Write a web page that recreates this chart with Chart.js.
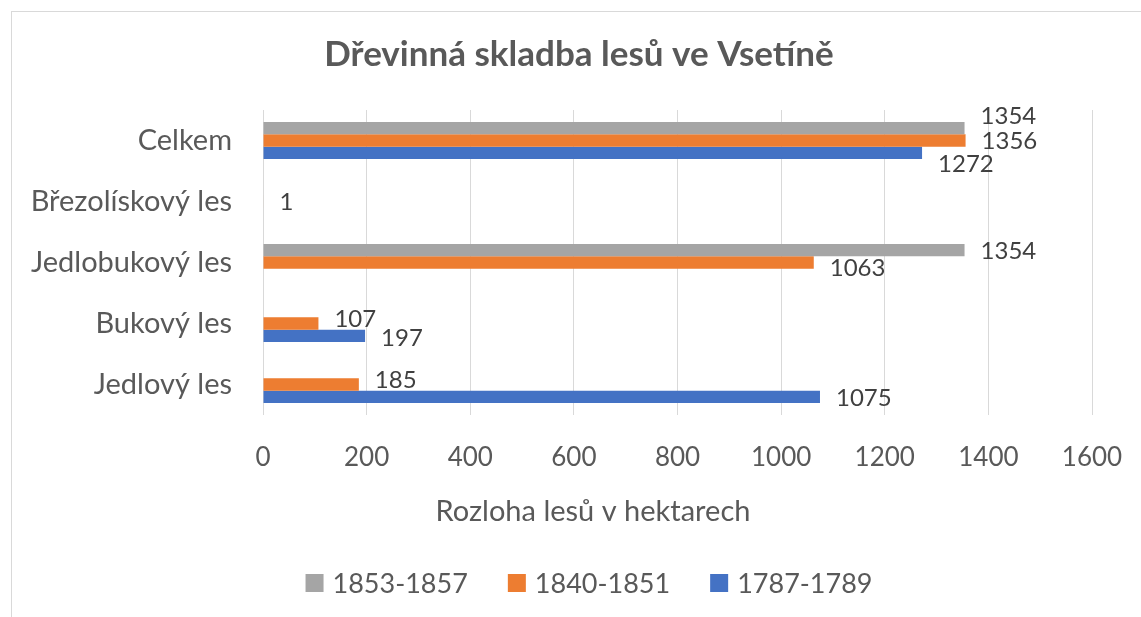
<!DOCTYPE html>
<html lang="cs">
<head>
<meta charset="UTF-8">
<title>Dřevinná skladba lesů ve Vsetíně</title>
<script src="https://cdn.jsdelivr.net/npm/chart.js@4.4.1/dist/chart.umd.min.js"></script>
<style>
  html, body { margin: 0; padding: 0; background: #fff; overflow: hidden; }
</style>
</head>
<body>
<canvas id="graf" width="1141" height="617"></canvas>
<script>
const kategorie = ['Celkem', 'Březolískový les', 'Jedlobukový les', 'Bukový les', 'Jedlový les'];
const obdobi = ['1853-1857', '1840-1851', '1787-1789'];
const hodnoty1853 = [1354, null, 1354, null, null];
const hodnoty1840 = [1356, 1, 1063, 107, 185];
const hodnoty1787 = [1272, null, null, 197, 1075];
const barvy = ['#A5A5A5', '#ED7D31', '#4472C4'];
const nadpis = 'Dřevinná skladba lesů ve Vsetíně';
const popisOsyX = 'Rozloha lesů v hektarech';

// popisky jsou v originale rucne posunute nahoru/dolu (px)
const posunPopisku = [
  [-11.5, 0, 1.5, 0, 0],
  [1, 1, 6, -4, -4.5],
  [11.5, 0, 0, 2, 1.5]
];

const pismo = 'Lato';
const sedaText = '#595959';
// Excel centruje nadpis, popis osy a legendu na cely objekt grafu, ten je sirsi nez obrazek
const stredObjektu = 587;

// tenky ramecek kolem grafu (prava a spodni strana jsou mimo obraz)
const ramecek = {
  id: 'ramecek',
  beforeDraw(chart) {
    const ctx = chart.ctx;
    ctx.save();
    ctx.strokeStyle = '#d9d9d9';
    ctx.lineWidth = 1;
    ctx.strokeRect(11.5, 11.5, chart.width + 20, chart.height + 20);
    ctx.restore();
  }
};

// hodnoty za koncem sloupcu
const popisky = {
  id: 'popisky',
  afterDatasetsDraw(chart) {
    const ctx = chart.ctx;
    ctx.save();
    ctx.font = '24px ' + pismo;
    ctx.fillStyle = '#404040';
    ctx.textAlign = 'left';
    ctx.textBaseline = 'middle';
    chart.data.datasets.forEach((ds, i) => {
      chart.getDatasetMeta(i).data.forEach((sloupec, j) => {
        const v = ds.data[j];
        if (v === null) return;
        ctx.fillText(String(v), sloupec.x + 16, sloupec.y + posunPopisku[i][j]);
      });
    });
    ctx.restore();
  }
};

// nadpis, popis osy X a legenda (ctverecky jako v Excelu)
const texty = {
  id: 'texty',
  afterDraw(chart) {
    const ctx = chart.ctx;
    ctx.save();
    ctx.textBaseline = 'middle';
    ctx.fillStyle = sedaText;
    ctx.textAlign = 'center';

    ctx.font = 'bold 35px ' + pismo;
    ctx.fillText(nadpis, stredObjektu - 8, 55);

    ctx.font = '29px ' + pismo;
    ctx.fillText(popisOsyX, stredObjektu + 6, chart.chartArea.bottom + 97);

    const box = 18, mezera = 9, odstup = 40;
    ctx.font = '27px ' + pismo;
    ctx.textAlign = 'left';
    const sady = chart.data.datasets;
    const sirky = sady.map(ds => ctx.measureText(ds.label).width);
    const celkem = sirky.reduce((a, b) => a + b, 0) + sady.length * (box + mezera) + (sady.length - 1) * odstup;
    let x = stredObjektu + 2 - celkem / 2;
    const y = chart.height - 34;
    sady.forEach((ds, i) => {
      ctx.fillStyle = ds.backgroundColor;
      ctx.fillRect(x, y - box / 2, box, box);
      x += box + mezera;
      ctx.fillStyle = sedaText;
      ctx.fillText(ds.label, x, y + 1);
      x += sirky[i] + odstup;
    });
    ctx.restore();
  }
};

function nakreslitGraf() {
  const ctx = document.getElementById('graf').getContext('2d');

  new Chart(ctx, {
    type: 'bar',
    data: {
      labels: kategorie,
      datasets: [
        { label: obdobi[0], data: hodnoty1853, backgroundColor: barvy[0] },
        { label: obdobi[1], data: hodnoty1840, backgroundColor: barvy[1] },
        { label: obdobi[2], data: hodnoty1787, backgroundColor: barvy[2] }
      ]
    },
    options: {
      indexAxis: 'y',
      responsive: false,
      animation: false,
      // nahore misto pro nadpis, dole pro legendu
      layout: { padding: { top: 110, right: 49, bottom: 57, left: 0 } },
      datasets: {
        bar: { categoryPercentage: 0.61, barPercentage: 1 }
      },
      plugins: {
        legend: { display: false },
        tooltip: { enabled: false },
        title: { display: false }
      },
      scales: {
        x: {
          min: 0,
          max: 1600,
          ticks: {
            stepSize: 200,
            color: sedaText,
            font: { family: pismo, size: 26 },
            padding: 27,
            callback: v => String(v)
          },
          grid: { color: '#d9d9d9', drawTicks: false },
          border: { display: false },
          afterFit(scale) {
            scale.height = 145;
            scale.paddingLeft = 0;
            scale.paddingRight = 0;
          }
        },
        y: {
          ticks: { color: sedaText, font: { family: pismo, size: 29 }, padding: 31 },
          grid: { display: false, drawTicks: false },
          border: { display: false },
          afterFit(scale) {
            scale.width = 263;
            scale.paddingTop = 0;
            scale.paddingBottom = 0;
          }
        }
      }
    },
    plugins: [ramecek, popisky, texty]
  });
}

document.fonts.load('26px ' + pismo).then(nakreslitGraf, nakreslitGraf);
</script>
</body>
</html>
